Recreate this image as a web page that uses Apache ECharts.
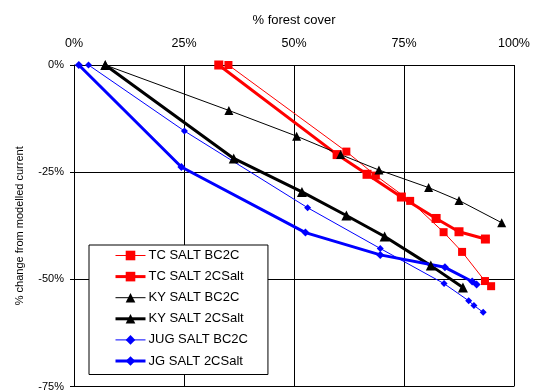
<!DOCTYPE html>
<html>
<head>
<meta charset="utf-8">
<script src="https://cdn.jsdelivr.net/npm/echarts@6/dist/echarts.min.js"></script>
<style>html,body{margin:0;padding:0;background:#fff;}#c{width:535px;height:392px;}</style>
</head>
<body>
<div id="c"></div>
<script>
const xTicks = [0, 25, 50, 75, 100];
const yTicks = [0, -25, -50, -75];

const tcBC2C_x = [35.1, 61.9, 68.6, 76.4, 84.0, 88.2, 93.4, 94.8];
const tcBC2C_y = [0, -20.2, -25.8, -31.7, -39.0, -43.6, -50.4, -51.6];
const tc2CSalt_x = [32.9, 59.8, 66.6, 74.4, 82.3, 87.5, 93.5];
const tc2CSalt_y = [0, -20.9, -25.5, -30.8, -35.8, -38.9, -40.6];

const kyBC2C_x = [7.1, 35.2, 50.6, 60.6, 69.3, 80.6, 87.5, 97.2];
const kyBC2C_y = [0, -10.6, -16.6, -20.9, -24.5, -28.6, -31.6, -36.8];
const ky2CSalt_x = [7.1, 36.3, 51.8, 61.9, 70.6, 81.1, 88.4];
const ky2CSalt_y = [0, -21.8, -29.6, -35.1, -40.0, -46.8, -51.9];

const jugBC2C_x = [3.3, 25.1, 53.1, 69.6, 84.1, 89.7, 90.9, 93.0];
const jugBC2C_y = [0, -15.4, -33.3, -42.8, -51.0, -55.0, -56.1, -57.7];
const jg2CSalt_x = [1.1, 24.4, 52.6, 69.6, 84.3, 90.5, 91.5];
const jg2CSalt_y = [0, -23.8, -39.1, -44.3, -47.2, -50.5, -51.2];

const names = ['TC SALT BC2C', 'TC SALT 2CSalt', 'KY SALT BC2C', 'KY SALT 2CSalt', 'JUG SALT BC2C', 'JG SALT 2CSalt'];
const widths = [1, 3, 1, 3, 1, 3];

function pairs(xs, ys) { return xs.map((x, i) => [x, ys[i]]); }

const FONT = 'Liberation Sans, Arial, sans-serif';

function mk(name, xs, ys, color, width, symbol, size) {
  return {
    name: name, type: 'line', data: pairs(xs, ys),
    symbol: symbol, symbolSize: size, showAllSymbol: true,
    lineStyle: { color: color, width: width },
    itemStyle: { color: color },
    animation: false
  };
}

const chart = echarts.init(document.getElementById('c'), null, { renderer: 'canvas' });
chart.setOption({
  animation: false,
  backgroundColor: '#fff',
  textStyle: { fontFamily: FONT },
  grid: { left: 74, top: 65, width: 440, height: 322, show: false },
  xAxis: {
    type: 'value', position: 'top', min: 0, max: 100, interval: 25,
    name: '% forest cover', nameLocation: 'middle', nameGap: 38,
    nameTextStyle: { fontSize: 13, color: '#000', fontFamily: FONT },
    axisLine: { show: true, lineStyle: { color: '#000', width: 1 } },
    axisTick: { show: false },
    axisLabel: { formatter: v => xTicks.includes(v) ? v + '%' : '', fontSize: 12.5, color: '#000', margin: 15, fontFamily: FONT },
    splitLine: { show: true, lineStyle: { color: '#000', width: 1 } }
  },
  yAxis: {
    type: 'value', min: -75, max: 0, interval: 25,
    name: '% change from modelled current', nameLocation: 'middle', nameGap: 49, nameRotate: 90,
    nameTextStyle: { fontSize: 11, color: '#000', fontFamily: FONT },
    axisLine: { show: true, onZero: false, lineStyle: { color: '#000', width: 1 } },
    axisTick: { show: true, length: 4, lineStyle: { color: '#000' } },
    axisLabel: { formatter: v => yTicks.includes(v) ? v + '%' : '', fontSize: 11, color: '#000', margin: 10, fontFamily: FONT },
    splitLine: { show: true, lineStyle: { color: '#000', width: 1 } }
  },
  legend: {
    orient: 'vertical', left: 89, top: 245,
    data: names.map((n, i) => ({ name: n, lineStyle: { width: widths[i] }, itemStyle: {} })),
    backgroundColor: '#fff', borderColor: '#000', borderWidth: 1,
    padding: [4, 20, 7, 25],
    itemWidth: 30, itemHeight: 12, itemGap: 8.1,
    textStyle: { fontSize: 13, color: '#000', fontFamily: FONT, padding: [0, 0, 0, -2] }
  },
  series: [
    mk(names[0], tcBC2C_x, tcBC2C_y, '#ff0000', 1, 'rect', 8),
    mk(names[1], tc2CSalt_x, tc2CSalt_y, '#ff0000', 3, 'rect', 9),
    mk(names[2], kyBC2C_x, kyBC2C_y, '#000000', 1, 'triangle', 9),
    mk(names[3], ky2CSalt_x, ky2CSalt_y, '#000000', 3, 'triangle', 10),
    mk(names[4], jugBC2C_x, jugBC2C_y, '#0000ff', 1, 'diamond', 7),
    mk(names[5], jg2CSalt_x, jg2CSalt_y, '#0000ff', 3, 'diamond', 8)
  ]
});
</script>
</body>
</html>
